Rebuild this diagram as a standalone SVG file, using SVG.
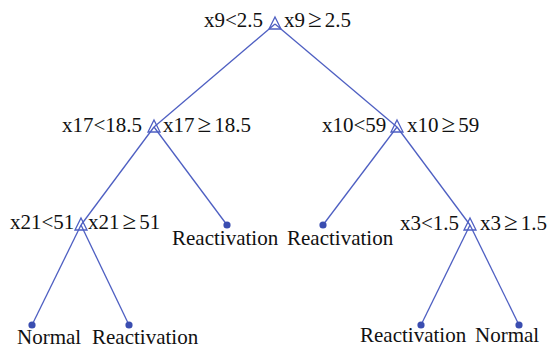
<svg xmlns="http://www.w3.org/2000/svg" width="550" height="348" viewBox="0 0 550 348">
<style>
.e{stroke:#4e5fc2;stroke-width:1.3;fill:none}
.t{font-family:"Liberation Serif","Times New Roman",serif;font-size:21px;fill:#111}
.g{font-size:25px}
.tri{stroke:#4e5fc2;stroke-width:1.3;fill:none}
.dot{fill:#3a4db0}
</style>
<defs>
<path id="tri" class="tri" d="M0,-7 L6,5 L-6,5 Z"/>
<circle id="dot" class="dot" r="3.6"/>
</defs>
<g id="connectors">
<path class="e" d="M275,24 L154,127"/>
<path class="e" d="M275,24 L397,127"/>
<path class="e" d="M154,127 L81,225"/>
<path class="e" d="M154,127 L227,225"/>
<path class="e" d="M397,127 L323,225"/>
<path class="e" d="M397,127 L470,225"/>
<path class="e" d="M81,225 L32,325"/>
<path class="e" d="M81,225 L129,325"/>
<path class="e" d="M470,225 L421,325"/>
<path class="e" d="M470,225 L519,325"/>
</g>
<g id="n_root">
<use href="#tri" x="275" y="24"/>
<text class="t" x="204" y="27">x9&lt;2.5</text>
<text class="t" x="284" y="27">x9<tspan class="g" dx="3">≥</tspan><tspan dx="3">2.5</tspan></text>
</g>
<g id="n_x17">
<use href="#tri" x="154" y="127"/>
<text class="t" x="62" y="132">x17&lt;18.5</text>
<text class="t" x="163" y="132">x17<tspan class="g" dx="3">≥</tspan><tspan dx="3">18.5</tspan></text>
</g>
<g id="n_x10">
<use href="#tri" x="397" y="127"/>
<text class="t" x="322" y="132">x10&lt;59</text>
<text class="t" x="407" y="132">x10<tspan class="g" dx="3">≥</tspan><tspan dx="3">59</tspan></text>
</g>
<g id="n_x21">
<use href="#tri" x="81" y="225"/>
<text class="t" x="10" y="229">x21&lt;51</text>
<text class="t" x="88" y="229">x21<tspan class="g" dx="3">≥</tspan><tspan dx="3">51</tspan></text>
</g>
<g id="n_x3">
<use href="#tri" x="470" y="225"/>
<text class="t" x="400" y="230">x3&lt;1.5</text>
<text class="t" x="480" y="230">x3<tspan class="g" dx="3">≥</tspan><tspan dx="3">1.5</tspan></text>
</g>
<g id="leaf_r1">
<use href="#dot" x="227" y="225"/>
<text class="t" x="172" y="245">Reactivation</text>
</g>
<g id="leaf_r2">
<use href="#dot" x="323" y="225"/>
<text class="t" x="287" y="245">Reactivation</text>
</g>
<g id="leaf_n1">
<use href="#dot" x="32" y="325"/>
<text class="t" x="17" y="344">Normal</text>
</g>
<g id="leaf_r3">
<use href="#dot" x="129" y="325"/>
<text class="t" x="92" y="344">Reactivation</text>
</g>
<g id="leaf_r4">
<use href="#dot" x="421" y="325"/>
<text class="t" x="360" y="342">Reactivation</text>
</g>
<g id="leaf_n2">
<use href="#dot" x="519" y="325"/>
<text class="t" x="475" y="342">Normal</text>
</g>
</svg>
